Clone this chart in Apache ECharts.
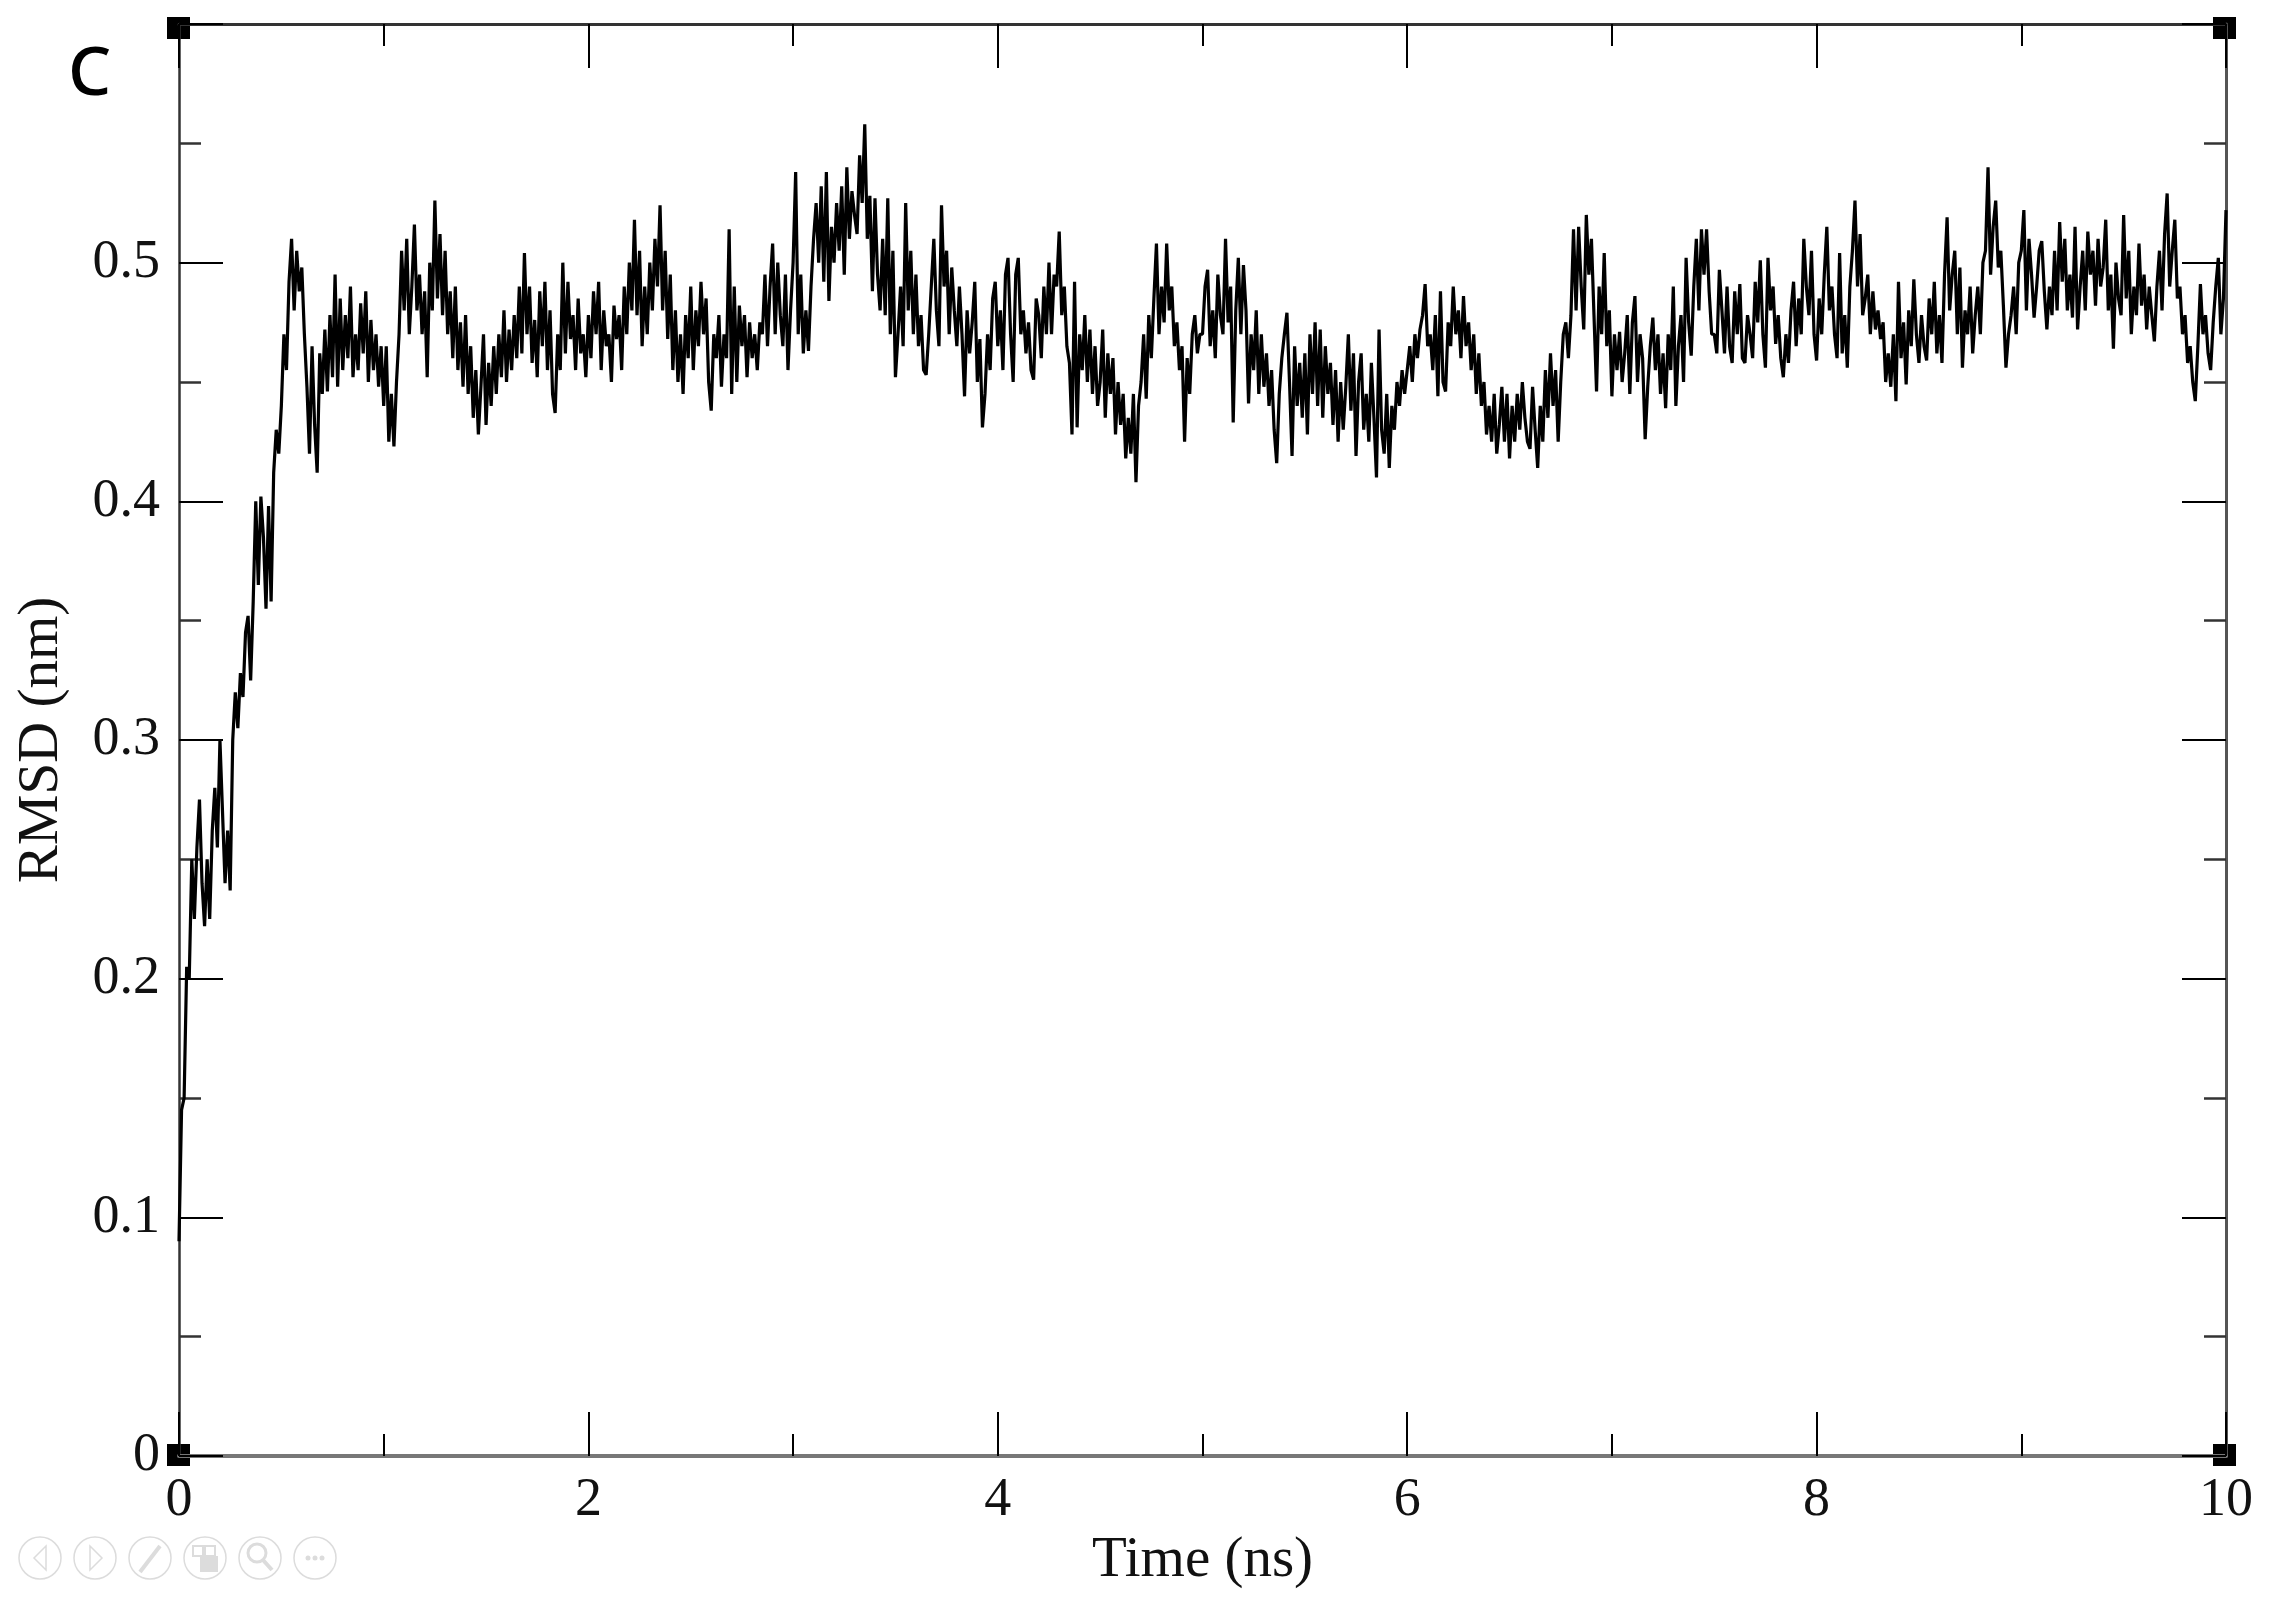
<!DOCTYPE html>
<html><head><meta charset="utf-8">
<style>html,body{margin:0;padding:0;background:#fff}#c{width:2284px;height:1604px}</style>
<script src="https://cdn.jsdelivr.net/npm/echarts@6/dist/echarts.min.js"></script>
</head><body><div id="c"></div>
<script>
// RMSD in thousandths of a nm, one list per half nanosecond
const rmsd_0_0 = [90,145,150,205,200,250,225,255,275,240,222,250,225,262,280,255,300,270,240,262,237,300,320,305,328,318,345,352,325,358,400,365,402,385,355,398,358,412,430,420];
const rmsd_0_5 = [440,470,455,492,510,480,505,488,498,470,448,420,465,432,412,462,445,472,446,478,452,495,448,485,455,478,460,490,452,470,455,483,462,488,450,476,455,470,448,465];
const rmsd_1_0 = [440,465,425,445,423,450,470,505,480,510,470,490,516,480,495,470,488,452,500,480,526,485,512,478,505,470,488,460,490,455,475,448,478,445,465,435,455,428,448,470];
const rmsd_1_5 = [432,458,440,465,445,470,452,480,450,472,455,478,460,490,462,504,470,490,458,476,452,488,465,492,455,480,445,437,470,455,500,462,492,468,478,455,485,462,470,452];
const rmsd_2_0 = [478,460,488,470,492,455,480,465,470,450,482,468,478,455,490,470,500,480,518,478,505,465,490,470,500,480,510,490,524,480,505,468,495,455,480,450,470,445,478,460];
const rmsd_2_5 = [490,455,480,465,492,470,485,450,438,470,460,478,448,470,460,514,445,490,450,482,465,478,452,475,460,470,455,475,470,495,465,490,508,470,500,478,465,495,455,480];
const rmsd_3_0 = [500,538,470,495,462,480,463,490,510,525,500,532,492,538,484,515,500,525,505,532,495,540,510,530,520,512,545,525,558,510,528,488,527,495,480,510,478,527,470,505];
const rmsd_3_5 = [452,470,490,465,525,480,505,470,495,465,478,455,453,470,490,510,480,465,524,490,505,470,498,480,465,490,470,444,480,462,475,492,450,468,431,445,470,455,485,492];
const rmsd_4_0 = [465,480,455,495,502,470,450,495,502,470,480,462,475,455,451,485,478,460,490,470,500,470,495,490,513,478,490,465,458,428,492,431,470,455,478,450,472,445,465,440];
const rmsd_4_5 = [450,472,435,462,445,460,428,450,432,445,418,435,420,445,408,440,450,470,443,478,460,485,508,470,490,475,508,480,490,465,475,455,465,425,460,445,470,478,462,470];
const rmsd_5_0 = [470,490,497,465,480,460,495,478,470,510,475,490,433,480,502,470,499,480,441,470,455,480,445,470,448,462,440,455,430,416,445,460,470,479,450,419,465,440,458,435];
const rmsd_5_5 = [462,428,470,445,475,440,472,435,465,445,458,432,455,425,450,430,448,470,438,462,419,450,462,430,445,425,458,435,410,472,430,420,445,414,440,430,450,440,455,445];
const rmsd_6_0 = [455,465,450,470,460,472,478,491,465,470,455,478,444,488,450,446,475,465,490,470,480,460,486,465,475,455,470,445,462,440,450,428,440,425,445,420,432,448,425,445];
const rmsd_6_5 = [418,440,425,445,430,450,435,425,422,448,430,414,440,425,455,435,462,440,455,425,450,470,475,460,478,514,480,515,490,472,520,495,510,478,446,490,470,504,465,480];
const rmsd_7_0 = [444,470,455,471,450,462,478,445,475,486,450,470,460,426,448,465,477,455,470,445,462,439,470,455,490,440,465,478,450,502,475,461,490,510,480,514,495,514,488,470];
const rmsd_7_5 = [470,462,497,480,462,490,465,458,488,470,491,460,458,478,470,460,492,475,501,470,456,502,480,490,466,478,460,452,470,458,480,492,465,485,470,510,490,478,505,470];
const rmsd_8_0 = [459,485,470,495,515,480,490,470,460,504,462,478,456,490,505,526,490,512,478,485,495,470,488,472,480,468,475,450,462,448,470,442,492,460,475,449,480,465,493,470];
const rmsd_8_5 = [458,478,465,459,485,470,492,462,478,458,495,519,480,495,505,470,498,456,480,470,490,462,478,490,470,500,505,540,495,515,526,498,505,482,456,470,478,490,470,500];
const rmsd_9_0 = [505,522,480,510,495,477,490,505,509,488,472,490,478,505,480,517,492,510,480,495,477,515,472,490,505,480,513,495,505,482,510,490,498,518,480,495,464,500,485,478];
const rmsd_9_5 = [520,485,505,470,490,478,508,482,495,472,490,478,467,490,505,480,512,529,490,505,518,485,490,470,478,458,465,450,442,465,491,470,478,462,455,475,490,502,470,485,522];

const halfNanosecondBlocks = [rmsd_0_0,rmsd_0_5,rmsd_1_0,rmsd_1_5,rmsd_2_0,rmsd_2_5,rmsd_3_0,rmsd_3_5,rmsd_4_0,rmsd_4_5,rmsd_5_0,rmsd_5_5,rmsd_6_0,rmsd_6_5,rmsd_7_0,rmsd_7_5,rmsd_8_0,rmsd_8_5,rmsd_9_0,rmsd_9_5];
const sampleStepNs = 0.0125;
const xTickLabels = ['0','2','4','6','8','10'];
const yTickLabels = ['0','0.1','0.2','0.3','0.4','0.5'];
const xTitle = 'Time (ns)';
const yTitle = 'RMSD (nm)';
const panelLetter = 'C';

const seriesData = [];
halfNanosecondBlocks.forEach((block, i) => block.forEach((v, j) => {
  seriesData.push([i * 0.5 + j * sampleStepNs, v / 1000]);
}));

const serif = '"Liberation Serif", serif';
const tickStyle = {color:'#000', width:2};
const iconGray = '#dcdcdc';
function ring(cx){return {type:'circle',shape:{cx:cx,cy:1558,r:21},style:{fill:'#fff',stroke:iconGray,lineWidth:1.5}};}
function corner(x,y){return {type:'rect',z:-1,shape:{x:x,y:y,width:23,height:22},style:{fill:'#000'}};}

const chart = echarts.init(document.getElementById('c'), null, {renderer:'canvas'});
chart.setOption({
  animation:false,
  backgroundColor:'#fff',
  grid:{left:179,right:58,top:24,bottom:148,containLabel:false},
  xAxis:[
    {type:'value',position:'bottom',min:0,max:10,interval:2,
     name:xTitle,nameLocation:'middle',nameGap:104,nameTextStyle:{fontFamily:serif,fontSize:57,color:'#111',verticalAlign:'middle'},
     axisLine:{show:true,onZero:false,lineStyle:{color:'#777',width:4}},
     axisTick:{show:true,inside:true,length:44,lineStyle:tickStyle},
     minorTick:{show:true,splitNumber:2,length:22,lineStyle:tickStyle},
     splitLine:{show:false},minorSplitLine:{show:false},
     axisLabel:{show:true,margin:18,fontFamily:serif,fontSize:54,color:'#111',showMinLabel:true,showMaxLabel:true,
       formatter:v=>xTickLabels[Math.round(v/2)]}},
    {type:'value',position:'top',min:0,max:10,interval:2,
     axisLine:{show:true,onZero:false,lineStyle:{color:'#333',width:3}},
     axisTick:{show:true,inside:true,length:44,lineStyle:tickStyle},
     minorTick:{show:true,splitNumber:2,length:22,lineStyle:tickStyle},
     splitLine:{show:false},minorSplitLine:{show:false},axisLabel:{show:false}}
  ],
  yAxis:[
    {type:'value',position:'left',min:0,max:0.6,interval:0.1,
     name:yTitle,nameLocation:'middle',nameGap:137,nameRotate:90,nameTextStyle:{fontFamily:serif,fontSize:57,color:'#111',verticalAlign:'middle'},
     axisLine:{show:true,onZero:false,lineStyle:{color:'#333',width:2.5}},
     axisTick:{show:true,inside:true,length:44,lineStyle:tickStyle},
     minorTick:{show:true,splitNumber:2,length:22,lineStyle:{color:'#333',width:2.5}},
     splitLine:{show:false},minorSplitLine:{show:false},
     axisLabel:{show:true,margin:19,padding:[4,0,0,0],fontFamily:serif,fontSize:54,color:'#111',showMinLabel:true,showMaxLabel:true,
       formatter:v=>yTickLabels[Math.round(v*10)]||''}},
    {type:'value',position:'right',min:0,max:0.6,interval:0.1,
     axisLine:{show:true,onZero:false,lineStyle:{color:'#555',width:3}},
     axisTick:{show:true,inside:true,length:44,lineStyle:tickStyle},
     minorTick:{show:true,splitNumber:2,length:22,lineStyle:{color:'#333',width:2.5}},
     splitLine:{show:false},minorSplitLine:{show:false},axisLabel:{show:false}}
  ],
  series:[{type:'line',xAxisIndex:0,yAxisIndex:0,data:seriesData,showSymbol:false,smooth:false,sampling:false,clip:false,
    lineStyle:{color:'#000',width:3.2,join:'bevel'},silent:true}],
  graphic:{elements:[
    corner(167,17),corner(2213,17),corner(167,1444),corner(2213,1444),
    {type:'text',left:68,top:42,style:{text:panelLetter,fontFamily:'"Noto Sans", sans-serif',fontWeight:500,fontSize:68,fill:'#000'}},
    ring(40),ring(95),ring(150),ring(205),ring(260),ring(315),
    {type:'polygon',shape:{points:[[46,1546],[34,1558],[46,1570]]},style:{fill:'#fff',stroke:iconGray,lineWidth:1.5}},
    {type:'polygon',shape:{points:[[90,1546],[102,1558],[90,1570]]},style:{fill:'#fff',stroke:iconGray,lineWidth:1.5}},
    {type:'line',shape:{x1:140,y1:1572,x2:160,y2:1546},style:{stroke:iconGray,lineWidth:4}},
    {type:'rect',shape:{x:193,y:1546,width:10,height:10},style:{fill:'#fff',stroke:iconGray,lineWidth:2}},
    {type:'rect',shape:{x:205,y:1546,width:10,height:10},style:{fill:'#fff',stroke:iconGray,lineWidth:2}},
    {type:'rect',shape:{x:200,y:1556,width:18,height:16},style:{fill:iconGray}},
    {type:'circle',shape:{cx:257,cy:1553,r:9},style:{fill:'#fff',stroke:iconGray,lineWidth:3}},
    {type:'line',shape:{x1:263,y1:1560,x2:272,y2:1570},style:{stroke:iconGray,lineWidth:4}},
    {type:'circle',shape:{cx:308,cy:1558,r:2.5},style:{fill:iconGray}},
    {type:'circle',shape:{cx:315,cy:1558,r:2.5},style:{fill:iconGray}},
    {type:'circle',shape:{cx:322,cy:1558,r:2.5},style:{fill:iconGray}}
  ]}
});
</script></body></html>
